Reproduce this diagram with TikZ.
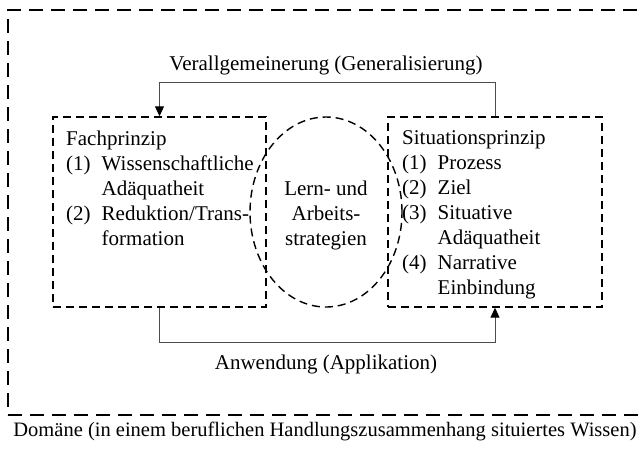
\documentclass[tikz,border=0pt]{standalone}
\usepackage{fontspec}
\setmainfont{Liberation Serif}
\usetikzlibrary{arrows.meta,shapes.geometric}
\begin{document}
\begin{tikzpicture}[x=1pt,y=-1pt,
  every node/.style={font=\fontsize{21}{25}\selectfont},
  dbox/.style={draw,line width=1.4pt,dash pattern=on 8pt off 5pt,rectangle,inner sep=0pt},
  outerbox/.style={draw,line width=1.4pt,dash pattern=on 14pt off 8pt,rectangle,inner sep=0pt},
  conn/.style={draw=black!70,line width=1pt},
  tip/.style={-{Triangle[width=9pt,length=10pt,color=black]}},
  txt/.style={inner sep=0pt,anchor=base west},
  lbl/.style={inner sep=0pt,anchor=base}]
\useasboundingbox (0,0) rectangle (640,448);
\node[outerbox,minimum width=640pt,minimum height=405pt] (domain) at (328,212.5) {};
\node[dbox,minimum width=213pt,minimum height=190pt] (fach) at (159.5,212) {};
\node[dbox,minimum width=214pt,minimum height=190pt] (sit) at (495,212) {};
\node[draw,ellipse,line width=1.4pt,dash pattern=on 8pt off 5pt,inner sep=0pt,minimum width=152pt,minimum height=190pt] (lern) at (326,212) {};
\node[txt] (ftxt) at (66,145) {\begin{tabular}[t]{@{}l@{\hspace{11pt}}l@{}}\multicolumn{2}{@{}l@{}}{Fachprinzip}\\(1)&Wissenschaftliche\\&Adäquatheit\\(2)&Reduktion/Trans-\\&formation\end{tabular}};
\node[txt] (stxt) at (402,144) {\begin{tabular}[t]{@{}l@{\hspace{11pt}}l@{}}\multicolumn{2}{@{}l@{}}{Situationsprinzip}\\(1)&Prozess\\(2)&Ziel\\(3)&Situative\\&Adäquatheit\\(4)&Narrative\\&Einbindung\end{tabular}};
\node[lbl] (ctxt) at (326,195) {\begin{tabular}[t]{@{}c@{}}Lern- und\\Arbeits-\\strategien\end{tabular}};
\node[lbl] (gen) at (326,70) {Verallgemeinerung (Generalisierung)};
\node[lbl] (app) at (326,369) {Anwendung (Applikation)};
\node[lbl,font=\fontsize{20.5}{25}\selectfont] (dom) at (325,436) {Domäne (in einem beruflichen Handlungszusammenhang situiertes Wissen)};
\draw[conn,tip] (sit.north) -- ++(0,-34) -| (fach.north);
\draw[conn,tip] (fach.south) -- ++(0,35) -| (sit.south);
\end{tikzpicture}
\end{document}
